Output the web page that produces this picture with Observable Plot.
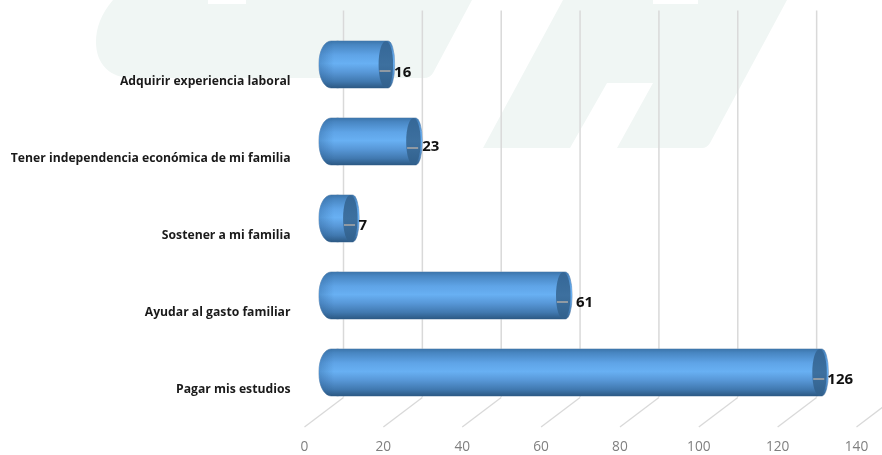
<!DOCTYPE html>
<html>
<head>
<meta charset="utf-8">
<script src="https://cdn.jsdelivr.net/npm/d3@7"></script>
<script src="https://cdn.jsdelivr.net/npm/@observablehq/plot@0.6"></script>
<style>
  html, body { margin: 0; padding: 0; background: #fff; }
  svg { display: block; }
</style>
</head>
<body>
<div id="chart"></div>
<script>
const categories = ["Adquirir experiencia laboral", "Tener independencia económica de mi familia", "Sostener a mi familia", "Ayudar al gasto familiar", "Pagar mis estudios"];
const values = [16, 23, 7, 61, 126];
const xTicks = [0, 20, 40, 60, 80, 100, 120, 140];

const rows = categories.map((c, i) => ({category: c, row: i, value: values[i]}));
const rowIndex = categories.map((_, i) => i);

// Pseudo-3D depth of the chart box, in scale units
const depth = 39 / 3.943;     // back wall offset along x
const floorRow = 4.318;       // row-scale position where the back wall meets the floor
const halfBar = 0.305;

const defsMark = () => {
  const defs = d3.create("svg:defs");
  const body = defs.append("linearGradient").attr("id", "cyl").attr("x1", 0).attr("x2", 0).attr("y1", 0).attr("y2", 1);
  [[0, "#3c75ab"], [0.08, "#4886c2"], [0.3, "#5fa4e7"], [0.48, "#68b0f3"], [0.66, "#5898d8"], [0.86, "#4179b0"], [1, "#2c5984"]]
    .forEach(([o, c]) => body.append("stop").attr("offset", o).attr("stop-color", c));
  const cap = defs.append("linearGradient").attr("id", "cap").attr("x1", 0).attr("x2", 0).attr("y1", 0).attr("y2", 1);
  [[0, "#356797"], [0.5, "#3d709f"], [1, "#31608c"]]
    .forEach(([o, c]) => cap.append("stop").attr("offset", o).attr("stop-color", c));
  const left = defs.append("linearGradient").attr("id", "leftShade").attr("x1", 0).attr("x2", 1).attr("y1", 0).attr("y2", 0);
  [[0, "#1f4f80", 0.3], [0.5, "#1f4f80", 0]]
    .forEach(([o, c, a]) => left.append("stop").attr("offset", o).attr("stop-color", c).attr("stop-opacity", a));
  return defs.node();
};

const watermark = () => {
  const g = d3.create("svg:g").attr("fill", "#f0f6f4");
  g.append("path").attr("d", "M113,0 C101,14 96,28 96,42 C96,64 110,78 132,78 L424,78 Q430,78 433,73 L472,0 L246,0 L246,4 L208,4 L208,0 Z");
  g.append("path").attr("d", "M563,0 L483,148 L570,148 L607,83 L653,83 L617,148 L702,148 Q707,148 710,143 L787,0 L698,0 L698,4 L653,4 L653,0 Z");
  return g.node();
};

const vertical = {y1: d => d.row - halfBar, y2: d => d.row + halfBar, dx: 19};
// left rounded end of the cylinder, anchored at zero
const leftEnd = {x1: 0, x2: 0, insetLeft: -4, insetRight: -26, rx: 12, ry: 22, ...vertical};
// main run of the cylinder up to the value
const run = {x1: 0, x2: "value", insetLeft: 8, insetRight: -8.5, rx: 6.5, ry: 22, ...vertical};
const edge = {fill: "none", stroke: "#8ba5bf", strokeWidth: 0.9};

// Label placement in the picture is not uniform from bar to bar
const labelPlacement = {16: [26.5, 7], 23: [27, 4], 7: [26.5, 6], 61: [31, 6], 126: [26, 6]};

const plot = Plot.plot({
  width: 882,
  height: 455,
  marginLeft: 304,
  marginRight: 26,
  marginTop: 10.6,
  marginBottom: 28.6,
  style: {background: "#fff", overflow: "hidden", filter: "blur(0.35px)"},
  x: {domain: [0, 140], range: [304, 856]},
  y: {domain: [-0.7, 4.7], range: [10.6, 426.4]},
  marks: [
    watermark,
    defsMark,
    // back-wall gridlines
    Plot.ruleX(xTicks, {x: d => d, y1: -0.7, y2: floorRow, dx: 39, stroke: "#d9d9d9", strokeWidth: 1.5}),
    // floor lines
    Plot.link(xTicks, {x1: d => d + depth, x2: d => d, y1: floorRow, y2: 4.7, stroke: "#d9d9d9", strokeWidth: 1.3}),
    // axes
    Plot.axisX({ticks: xTicks, tickSize: 0, tickPadding: 14, fontSize: 13.7, color: "#7f7f7f", fontFamily: "Open Sans", label: null}),
    Plot.axisY({ticks: rowIndex, tickFormat: i => categories[i], tickSize: 0, tickPadding: 14, dy: 16, fontSize: 12.2, fontWeight: 700, color: "#1a1a1a", fontFamily: "Open Sans", label: null}),
    // cylinder outline, then fills
    Plot.rectX(rows, {...leftEnd, ...edge}),
    Plot.rectX(rows, {...run, ...edge}),
    Plot.rectX(rows, {...leftEnd, fill: "url(#cyl)"}),
    Plot.rectX(rows, {...run, fill: "url(#cyl)"}),
    Plot.rectX(rows, {...leftEnd, fill: "url(#leftShade)"}),
    // end caps
    Plot.rectX(rows, {
      ...vertical,
      x1: "value", x2: "value",
      insetLeft: -7.5, insetRight: -7,
      rx: 7.2, ry: 23,
      fill: "url(#cap)"
    }),
    // leader lines
    Plot.link(rows, {x1: d => d.value - 1.8, x2: d => d.value + 1, y1: "row", y2: "row", dx: 19, dy: 6, stroke: "#a6a6a6", strokeWidth: 1.6}),
    // value labels
    ...rows.map(d => Plot.text([d], {
      x: "value", y: "row", text: r => String(r.value),
      dx: labelPlacement[d.value][0], dy: labelPlacement[d.value][1],
      textAnchor: "start", fontSize: 15, fontWeight: 700, fill: "#111", fontFamily: "Open Sans"
    }))
  ]
});
document.getElementById("chart").appendChild(plot);
</script>
</body>
</html>
